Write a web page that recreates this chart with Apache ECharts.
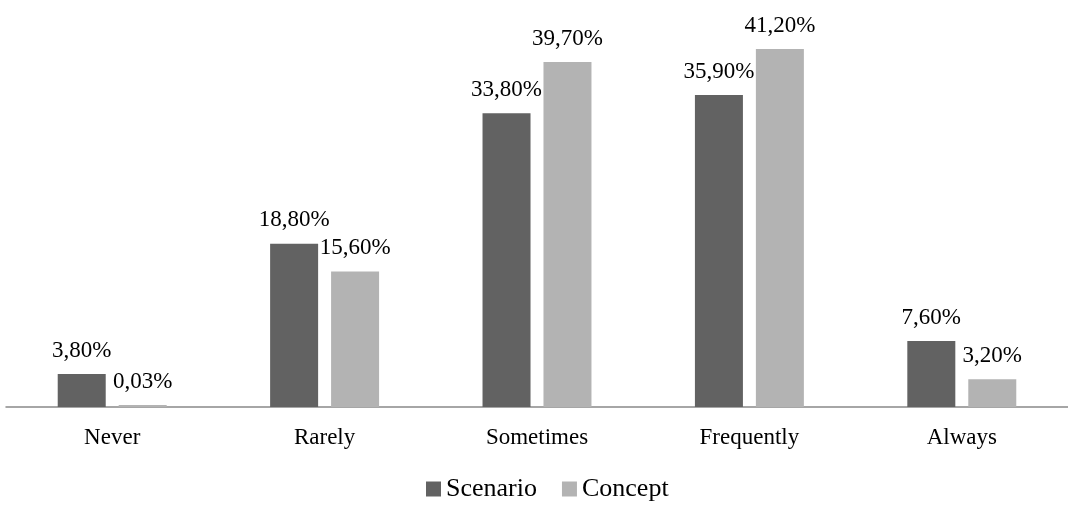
<!DOCTYPE html>
<html>
<head>
<meta charset="utf-8">
<script src="https://cdn.jsdelivr.net/npm/echarts@6/dist/echarts.min.js"></script>
<style>
  html, body { margin: 0; padding: 0; background: #ffffff; }
  #chart { width: 1068px; height: 505px; }
</style>
</head>
<body>
<div id="chart"></div>
<script>
// Frequency categories and the share of answers (%) for each series
const categories = ['Never', 'Rarely', 'Sometimes', 'Frequently', 'Always'];
const scenarioValues = [3.80, 18.80, 33.80, 35.90, 7.60];
const conceptValues = [0.03, 15.60, 39.70, 41.20, 3.20];

const FONT = '"Liberation Serif", "Times New Roman", serif';

function pctLabel(p) {
  return p.value.toFixed(2).replace('.', ',') + '%';
}

const chart = echarts.init(document.getElementById('chart'), null, { renderer: 'canvas' });

chart.setOption({
  animation: false,
  backgroundColor: '#ffffff',
  textStyle: { fontFamily: FONT },
  grid: { left: 6, right: -12, top: 16, bottom: 98, containLabel: false },
  legend: {
    left: 426,
    top: 476,
    padding: 0,
    icon: 'rect',
    itemWidth: 15,
    itemHeight: 15,
    itemGap: 25,
    textStyle: { fontFamily: FONT, fontSize: 26, color: '#000000' },
    data: ['Scenario', 'Concept']
  },
  xAxis: {
    type: 'category',
    data: categories,
    axisLine: { lineStyle: { color: '#898989', width: 1.5 } },
    axisTick: { show: false },
    axisLabel: { fontFamily: FONT, fontSize: 23, color: '#000000', margin: 19 }
  },
  yAxis: {
    type: 'value',
    min: 0,
    max: 45,
    show: false,
    splitLine: { show: false }
  },
  series: [
    {
      name: 'Scenario',
      type: 'bar',
      data: scenarioValues,
      barWidth: 48,
      barGap: '27%',
      itemStyle: { color: '#626262' },
      label: {
        show: true,
        position: 'top',
        distance: 12,
        fontFamily: FONT,
        fontSize: 23,
        color: '#000000',
        formatter: pctLabel
      }
    },
    {
      name: 'Concept',
      type: 'bar',
      data: conceptValues,
      barWidth: 48,
      barMinHeight: 2,
      itemStyle: { color: '#b3b3b3' },
      label: {
        show: true,
        position: 'top',
        distance: 12,
        fontFamily: FONT,
        fontSize: 23,
        color: '#000000',
        formatter: pctLabel
      }
    }
  ]
});
</script>
</body>
</html>
